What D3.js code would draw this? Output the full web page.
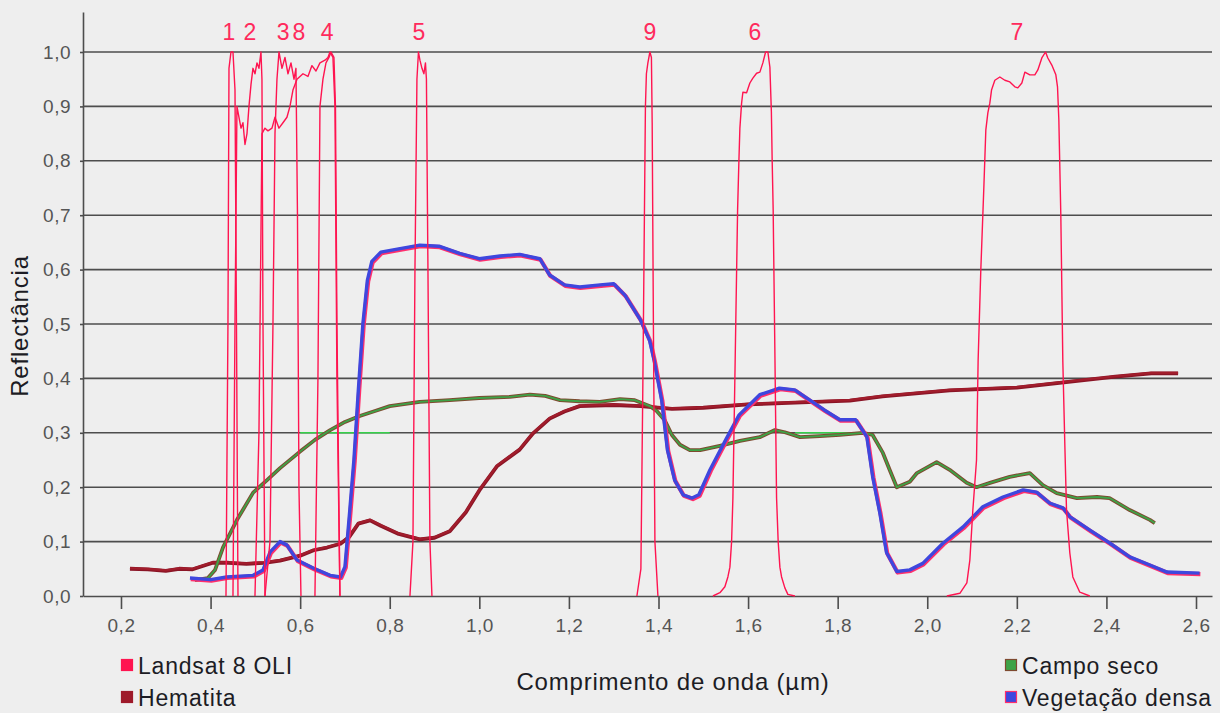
<!DOCTYPE html>
<html lang="pt">
<head>
    <meta charset="UTF-8">
    <title>Reflectância e bandas Landsat 8 OLI</title>
    <script src="https://d3js.org/d3.v7.min.js"></script>
    <style>
        body{
            margin: 0;
            background: #eeeeee;
        }
        svg{
            display: block;
            font-family: "Liberation Sans", Arial, sans-serif;
        }
        .tick text{
            fill: #555;
            font-size: 19px;
            letter-spacing: 0.5px;
        }
        .title{
            fill: #1c1c24;
            font-size: 23px;
            letter-spacing: 0.8px;
        }
        .axistitle{
            font-size: 24px;
        }
    </style>
</head>
<body>
<svg width="1220" height="713"></svg>
<script>
    // tick values and labels (comma decimals as in the original)
    let xTicks = [0.2,0.4,0.6,0.8,1.0,1.2,1.4,1.6,1.8,2.0,2.2,2.4,2.6]
    let xTickLabels = ["0,2","0,4","0,6","0,8","1,0","1,2","1,4","1,6","1,8","2,0","2,2","2,4","2,6"]
    let yTicks = [0,0.1,0.2,0.3,0.4,0.5,0.6,0.7,0.8,0.9,1.0]
    let yTickLabels = ["0,0","0,1","0,2","0,3","0,4","0,5","0,6","0,7","0,8","0,9","1,0"]

    // Landsat 8 OLI relative spectral response [wavelength µm, response]
    let band1 = [[0.4344,0],[0.4388,0.5],[0.4411,0.97],[0.4455,1.0],[0.4500,1.0],[0.4545,0.93],[0.4578,0.5],[0.4612,0]]
    let band2 = [[0.4500,0],[0.4545,0.5],[0.4589,0.9],[0.4634,0.88],[0.4679,0.86],[0.4723,0.87],[0.4768,0.83],
                 [0.4813,0.85],[0.4857,0.9],[0.4902,0.94],[0.4946,0.97],[0.4991,0.96],[0.5036,0.98],[0.5080,0.97],
                 [0.5125,1.0],[0.5147,0.95],[0.5170,0.5],[0.5214,0]]
    let band3 = [[0.5214,0],[0.5326,0.1],[0.5393,0.5],[0.5438,0.85],[0.5482,0.95],[0.5527,1.0],[0.5594,0.97],
                 [0.5661,0.99],[0.5728,0.96],[0.5795,0.98],[0.5862,0.95],[0.5906,0.97],[0.5940,0.7],[0.5973,0.2],[0.6018,0]]
    let band4 = [[0.6330,0],[0.6397,0.4],[0.6442,0.9],[0.6509,0.95],[0.6576,0.98],[0.6643,0.99],[0.6688,1.0],
                 [0.6754,0.99],[0.6788,0.9],[0.6821,0.5],[0.6888,0]]
    let band5 = [[0.8451,0],[0.8518,0.1],[0.8563,0.6],[0.8607,0.95],[0.8641,1.0],[0.8674,0.985],[0.8719,0.97],
                 [0.8763,0.96],[0.8797,0.98],[0.8819,0.95],[0.8853,0.6],[0.8897,0.1],[0.8942,0]]
    let band6 = [[1.5215,0],[1.5371,0.006],[1.5482,0.017],[1.5549,0.035],[1.5594,0.053],[1.5632,0.1],[1.5661,0.18],
                 [1.5705,0.4],[1.5766,0.71],[1.5795,0.8],[1.5817,0.86],[1.5855,0.906],[1.5884,0.926],[1.5967,0.925],
                 [1.6040,0.943],[1.6107,0.952],[1.6190,0.961],[1.6263,0.963],[1.6330,0.98],[1.6391,1.0],[1.6442,1.0],
                 [1.6487,0.972],[1.6520,0.89],[1.6538,0.8],[1.6560,0.71],[1.6598,0.45],[1.6636,0.18],[1.6672,0.1],
                 [1.6710,0.053],[1.6748,0.035],[1.6821,0.015],[1.6888,0.003],[1.7045,0]]
    let band7 = [[2.0437,0],[2.0728,0.005],[2.0884,0.024],[2.0951,0.066],[2.1018,0.158],[2.1100,0.25],[2.1136,0.434],
                 [2.1196,0.6],[2.1263,0.75],[2.1308,0.857],[2.1353,0.888],[2.1397,0.906],[2.1435,0.93],[2.1509,0.948],
                 [2.1621,0.954],[2.1732,0.948],[2.1844,0.945],[2.1956,0.936],[2.2022,0.934],[2.2112,0.943],[2.2179,0.963],
                 [2.2290,0.958],[2.2402,0.958],[2.2469,0.967],[2.2558,0.989],[2.2641,1.0],[2.2692,0.989],[2.2781,0.976],
                 [2.2871,0.958],[2.2908,0.936],[2.2938,0.875],[2.2982,0.7],[2.3027,0.43],[2.3071,0.28],[2.3109,0.158],
                 [2.3183,0.079],[2.3250,0.035],[2.3406,0.007],[2.3629,0]]
    let band8 = [[0.4991,0],[0.5080,0.3],[0.5147,0.85],[0.5214,0.86],[0.5281,0.855],[0.5371,0.86],[0.5438,0.88],
                 [0.5527,0.86],[0.5616,0.87],[0.5705,0.88],[0.5772,0.9],[0.5839,0.93],[0.5929,0.95],[0.6063,0.96],
                 [0.6174,0.955],[0.6263,0.975],[0.6353,0.965],[0.6442,0.98],[0.6554,0.985],[0.6621,0.99],[0.6665,1.0],
                 [0.6732,0.99],[0.6777,0.9],[0.6821,0.4],[0.6888,0]]
    let band9 = [[1.3518,0],[1.3607,0.05],[1.3652,0.4],[1.3708,0.9],[1.3730,0.96],[1.3763,0.98],[1.3808,1.0],
                 [1.3842,0.99],[1.3859,0.87],[1.3886,0.5],[1.3920,0.1],[1.3987,0]]
    let bands = [band1,band2,band3,band4,band5,band6,band7,band8,band9]
    let bandLabels = ["1","2","3","8","4","5","9","6","7"]
    let bandLabelX = [0.441,0.488,0.562,0.597,0.660,0.865,1.381,1.615,2.200]

    // spectra [wavelength µm, reflectance]
    let hematita = [[0.22,0.051],[0.26,0.05],[0.30,0.047],[0.33,0.051],[0.36,0.05],[0.405,0.062],[0.44,0.062],
                    [0.48,0.06],[0.52,0.062],[0.555,0.066],[0.60,0.075],[0.63,0.085],[0.66,0.09],[0.69,0.097],
                    [0.71,0.11],[0.73,0.134],[0.756,0.14],[0.78,0.13],[0.82,0.115],[0.867,0.105],[0.90,0.108],
                    [0.934,0.12],[0.97,0.155],[1.0,0.195],[1.04,0.24],[1.09,0.27],[1.12,0.3],[1.157,0.327],
                    [1.19,0.34],[1.224,0.35],[1.30,0.352],[1.36,0.35],[1.43,0.345],[1.50,0.347],[1.60,0.353],
                    [1.72,0.357],[1.827,0.36],[1.90,0.368],[2.05,0.379],[2.20,0.384],[2.30,0.393],[2.42,0.404],
                    [2.50,0.41],[2.56,0.41]]
    let campoSeco = [[0.365,0.029],[0.394,0.033],[0.41,0.048],[0.428,0.09],[0.459,0.14],[0.495,0.19],[0.526,0.213],
                     [0.555,0.235],[0.599,0.265],[0.633,0.287],[0.667,0.305],[0.70,0.32],[0.733,0.331],[0.767,0.34],
                     [0.80,0.349],[0.867,0.357],[0.934,0.36],[1.0,0.364],[1.068,0.366],[1.113,0.37],[1.147,0.368],
                     [1.18,0.36],[1.224,0.358],[1.269,0.357],[1.314,0.362],[1.347,0.36],[1.381,0.349],[1.396,0.34],
                     [1.414,0.323],[1.43,0.296],[1.448,0.278],[1.47,0.268],[1.493,0.268],[1.537,0.276],[1.582,0.285],
                     [1.626,0.292],[1.66,0.305],[1.682,0.301],[1.716,0.292],[1.76,0.294],[1.805,0.296],[1.856,0.3],
                     [1.878,0.296],[1.901,0.263],[1.916,0.232],[1.932,0.2],[1.961,0.21],[1.977,0.226],[2.021,0.246],
                     [2.05,0.232],[2.088,0.208],[2.11,0.2],[2.14,0.208],[2.184,0.219],[2.229,0.226],[2.258,0.204],
                     [2.289,0.189],[2.334,0.18],[2.379,0.182],[2.407,0.18],[2.452,0.158],[2.497,0.14],[2.508,0.134]]
    let vegetacao = [[0.354,0.033],[0.40,0.03],[0.436,0.035],[0.495,0.038],[0.517,0.048],[0.533,0.081],[0.555,0.1],
                     [0.57,0.094],[0.593,0.066],[0.63,0.051],[0.667,0.038],[0.69,0.035],[0.70,0.054],[0.71,0.15],
                     [0.72,0.25],[0.73,0.38],[0.74,0.5],[0.75,0.58],[0.76,0.615],[0.78,0.632],[0.82,0.638],
                     [0.867,0.645],[0.91,0.643],[0.956,0.63],[1.0,0.62],[1.046,0.625],[1.09,0.628],[1.135,0.62],
                     [1.157,0.59],[1.19,0.572],[1.224,0.568],[1.27,0.572],[1.30,0.574],[1.325,0.553],[1.36,0.507],
                     [1.38,0.47],[1.39,0.434],[1.407,0.36],[1.42,0.268],[1.436,0.213],[1.455,0.186],[1.475,0.18],
                     [1.49,0.186],[1.515,0.232],[1.55,0.287],[1.58,0.333],[1.626,0.37],[1.67,0.382],[1.704,0.379],
                     [1.738,0.36],[1.77,0.342],[1.805,0.324],[1.84,0.324],[1.865,0.293],[1.878,0.22],[1.894,0.153],
                     [1.909,0.08],[1.932,0.045],[1.961,0.048],[1.99,0.06],[2.035,0.097],[2.08,0.127],[2.124,0.164],
                     [2.169,0.182],[2.214,0.195],[2.244,0.191],[2.273,0.171],[2.303,0.162],[2.318,0.146],[2.363,0.121],
                     [2.408,0.097],[2.452,0.072],[2.497,0.057],[2.535,0.044],[2.608,0.042]]
    // thin green segments lying on the 0,3 grid line
    let greenSegments = [[[0.60,0.3],[0.80,0.3]],[[1.705,0.3],[1.85,0.3]]]

    //step 1 : select svg and make the scales
    let svg = d3.select('svg')
    let plot = {left:83, right:1212, top:12, bottom:596}

    let x = d3.scaleLinear()
        .domain([0.2 - 38/448, 2.6 + 16/448])
        .range([plot.left, plot.right])
    let y = d3.scaleLinear()
        .domain([0, 584/544])
        .range([plot.bottom, plot.top])

    let line = d3.line().x(function(d){return x(d[0])}).y(function(d){return y(d[1])})

    //step 2 : grid lines
    svg.append('g').selectAll('line').data(yTicks.slice(1)).enter().append('line')
        .attr('x1', plot.left).attr('x2', plot.right)
        .attr('y1', function(d){return y(d)}).attr('y2', function(d){return y(d)})
        .attr('stroke', '#4d4d4d').attr('stroke-width', 1.6)

    svg.append('g').selectAll('path').data(greenSegments).enter().append('path')
        .attr('d', line).attr('fill', 'none')
        .attr('stroke', '#35d04a').attr('stroke-width', 1.4)

    //step 3 : axes
    let xAxis = svg.append('g')
        .attr('transform', 'translate(0,' + plot.bottom + ')')
        .call(d3.axisBottom(x).tickValues(xTicks).tickSize(13).tickSizeOuter(0).tickPadding(10)
            .tickFormat(function(d,i){return xTickLabels[i]}))
    let yAxis = svg.append('g')
        .attr('transform', 'translate(' + plot.left + ',0)')
        .call(d3.axisLeft(y).tickValues(yTicks).tickSize(3).tickSizeOuter(0).tickPadding(9)
            .tickFormat(function(d,i){return yTickLabels[i]}))
    svg.selectAll('.domain, .tick line').attr('stroke', '#4d4d4d').attr('stroke-width', 1.6)
    svg.selectAll('.tick text').attr('font-family', null).attr('font-size', null)

    //step 4 : spectra
    function doubleLine(data, under, over, wu, wo, dx, dy) {
        svg.append('path').datum(data).attr('d', line).attr('fill', 'none')
            .attr('stroke', under).attr('stroke-width', wu).attr('stroke-linejoin', 'round')
            .attr('transform', 'translate(' + dx + ',' + dy + ')')
        svg.append('path').datum(data).attr('d', line).attr('fill', 'none')
            .attr('stroke', over).attr('stroke-width', wo).attr('stroke-linejoin', 'round')
    }
    doubleLine(hematita, '#8a1526', '#a21d2c', 3.8, 2.2, 0, 0.5)
    doubleLine(campoSeco, '#7e4a30', '#3da347', 3.8, 1.8, 0, 0)
    doubleLine(vegetacao, '#ff2f6c', '#3e47de', 4.2, 3.4, 0.8, 1)

    //step 5 : Landsat bands on top
    svg.append('g').selectAll('path').data(bands).enter().append('path')
        .attr('d', line).attr('fill', 'none')
        .attr('stroke', '#ff1450').attr('stroke-width', 1.4).attr('stroke-linejoin', 'round')

    svg.append('g').selectAll('text').data(bandLabels).enter().append('text')
        .attr('x', function(d,i){return x(bandLabelX[i])})
        .attr('y', 40)
        .attr('text-anchor', 'middle')
        .attr('fill', '#ff2a5c')
        .style('font-size', '23px')
        .text(function(d){return d})

    //step 6 : titles and legend
    svg.append('text').attr('class', 'title axistitle')
        .attr('transform', 'translate(673,690)')
        .attr('text-anchor', 'middle')
        .text('Comprimento de onda (µm)')
    svg.append('text').attr('class', 'title axistitle')
        .attr('transform', 'translate(28,326) rotate(-90)')
        .attr('text-anchor', 'middle')
        .text('Reflectância')

    let legendNames = ['Landsat 8 OLI','Hematita','Campo seco','Vegetação densa']
    let legendFill = ['#ff1450','#9e1a2a','#3da347','#3e47de']
    let legendStroke = ['#ff1450','#9e1a2a','#7e4a30','#ff2f6c']
    let legendPos = [[121,659],[121,691],[1005,659],[1005,691]]

    let legend = svg.append('g').selectAll('g').data(legendNames).enter().append('g')
        .attr('transform', function(d,i){return 'translate(' + legendPos[i][0] + ',' + legendPos[i][1] + ')'})
    legend.append('rect')
        .attr('x', 0.5).attr('y', 0.5).attr('width', 11).attr('height', 11)
        .attr('fill', function(d,i){return legendFill[i]})
        .attr('stroke', function(d,i){return legendStroke[i]}).attr('stroke-width', 1.2)
    legend.append('text').attr('class', 'title')
        .attr('x', 17).attr('y', 15)
        .text(function(d){return d})
</script>
</body>
</html>
